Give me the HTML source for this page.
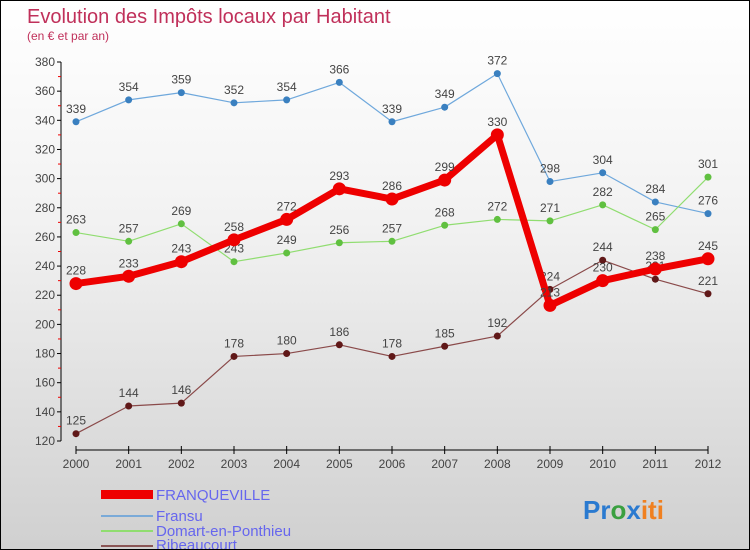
<!DOCTYPE html>
<html><head><meta charset="utf-8"><style>
body{margin:0}
#c{width:750px;height:550px;position:relative;box-sizing:border-box;border:1px solid #000;background:linear-gradient(#fff,#f2f2f2 40%,#d0d0d0);font-family:"Liberation Sans",sans-serif;overflow:hidden}
svg{position:absolute;left:0;top:0}
</style></head><body>
<div id="c">
<svg id="s" width="750" height="550">
<text x="26" y="22" font-size="20" fill="#c0305a">Evolution des Impôts locaux par Habitant</text>
<text x="26" y="39" font-size="12" fill="#c0305a">(en € et par an)</text>
<g id="legend">
<rect x="100" y="489" width="52" height="9" fill="#e00"/>
<text x="155" y="499" font-size="15" fill="#6666ee">FRANQUEVILLE</text>
<line x1="100" y1="515" x2="152" y2="515" stroke="#7aaad8" stroke-width="2"/>
<text x="155" y="520" font-size="15" fill="#6666ee">Fransu</text>
<line x1="100" y1="530" x2="152" y2="530" stroke="#90dd70" stroke-width="2"/>
<text x="155" y="535" font-size="15" fill="#6666ee">Domart-en-Ponthieu</text>
<line x1="100" y1="545" x2="152" y2="545" stroke="#8a5555" stroke-width="2"/>
<text x="155" y="549" font-size="15" fill="#6666ee">Ribeaucourt</text>
</g>
<text x="582" y="518" font-size="26" font-weight="bold"><tspan fill="#2a7ad0">Pr</tspan><tspan fill="#3aa040">o</tspan><tspan fill="#2a7ad0">x</tspan><tspan fill="#f08020">iti</tspan></text>
</svg>
</div>
<script>
const years=[2000,2001,2002,2003,2004,2005,2006,2007,2008,2009,2010,2011,2012];
const yTicks=[120,140,160,180,200,220,240,260,280,300,320,340,360,380];
const franqueville=[228,233,243,258,272,293,286,299,330,213,230,238,245];
const fransu=[339,354,359,352,354,366,339,349,372,298,304,284,276];
const domart=[263,257,269,243,249,256,257,268,272,271,282,265,301];
const ribeaucourt=[125,144,146,178,180,186,178,185,192,224,244,231,221];
const NS="http://www.w3.org/2000/svg",s=document.getElementById('s');
const X=i=>75+i*(707-75)/(years.length-1);
const Y=v=>440-(v-120)*(440-61)/260;
function mk(t,a,p){const e=document.createElementNS(NS,t);for(const k in a)e.setAttribute(k,a[k]);(p||s).appendChild(e);return e;}
const ax=mk('g',{});


mk('line',{x1:60,y1:61,x2:60,y2:440,stroke:'#000'},ax);
mk('line',{x1:75,y1:449,x2:707,y2:449,stroke:'#000'},ax);
yTicks.forEach((v,i)=>{
 mk('line',{x1:56,y1:Y(v),x2:60,y2:Y(v),stroke:'#000'},ax);
 if(i<yTicks.length-1)mk('line',{x1:57,y1:Y(v+10),x2:60,y2:Y(v+10),stroke:'#e00'},ax);
 const t=mk('text',{x:54,y:Y(v)+4,'font-size':12,fill:'#444','text-anchor':'end'},ax);t.textContent=v;
 
 
});
years.forEach((y,i)=>{
 mk('line',{x1:X(i),y1:445,x2:X(i),y2:453,stroke:'#000'},ax);
 const t=mk('text',{x:X(i),y:467,'font-size':12,fill:'#444','text-anchor':'middle'},ax);t.textContent=y;
 
 
});
function series(name,data,color,w,r,dot){
 const g=mk('g',{});
 
 
 mk('polyline',{points:data.map((v,i)=>X(i)+','+Y(v)).join(' '),fill:'none',stroke:color,'stroke-width':w,'stroke-linejoin':'round'},g);
 data.forEach((v,i)=>{
  const c=mk('circle',{cx:X(i),cy:Y(v),r:r,fill:dot},g);
  
  
  const t=mk('text',{x:X(i),y:Y(v)-9,'font-size':12,fill:'#444','text-anchor':'middle'},g);t.textContent=v;
  
  
 });
}
series('fransu',fransu,'#6fa8dc',1.2,3.5,'#3a80c0');
series('domart',domart,'#90dd70',1.2,3.5,'#60c040');
series('ribeaucourt',ribeaucourt,'#8a4a4a',1.2,3.5,'#601818');
series('franqueville',franqueville,'#ee0000',7,6.5,'#ee0000');
</script>
</body></html>
